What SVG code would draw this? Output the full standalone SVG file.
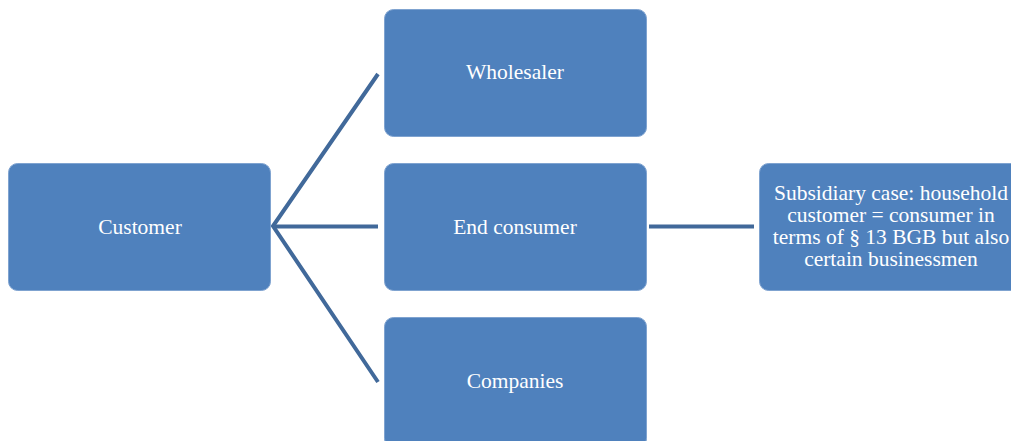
<svg xmlns="http://www.w3.org/2000/svg" width="1011" height="441" viewBox="0 0 1011 441">
<style>
.box{fill:#4F81BD;stroke:#7FA3D0;stroke-width:1}
.lbl{font-family:"Liberation Serif","Times New Roman",serif;font-size:21.5px;fill:#FFFFFF;text-anchor:middle}
.conn{stroke:#41699A;stroke-width:4;fill:none}
</style>
<rect width="1011" height="441" fill="#FFFFFF"/>
<g id="connectors">
<path class="conn" d="M378,74 L273,226 L378,382"/>
<line class="conn" x1="273" y1="226.5" x2="378" y2="226.5"/>
<line class="conn" x1="649" y1="226.5" x2="754" y2="226.5"/>
</g>
<g id="customer">
<rect class="box" x="8.5" y="163.5" width="262" height="127" rx="9"/>
<text class="lbl" x="140" y="234">Customer</text>
</g>
<g id="wholesaler">
<rect class="box" x="384.5" y="9.5" width="262" height="127" rx="9"/>
<text class="lbl" x="515" y="79">Wholesaler</text>
</g>
<g id="end-consumer">
<rect class="box" x="384.5" y="163.5" width="262" height="127" rx="9"/>
<text class="lbl" x="515" y="234">End consumer</text>
</g>
<g id="companies">
<rect class="box" x="384.5" y="317.5" width="262" height="130" rx="9"/>
<text class="lbl" x="515" y="388">Companies</text>
</g>
<g id="subsidiary">
<rect class="box" x="759.5" y="163.5" width="262" height="127" rx="9"/>
<text class="lbl" x="891" y="200">Subsidiary case: household</text>
<text class="lbl" x="891" y="222">customer = consumer in</text>
<text class="lbl" x="891" y="244">terms of § 13 BGB but also</text>
<text class="lbl" x="891" y="266">certain businessmen</text>
</g>
</svg>
